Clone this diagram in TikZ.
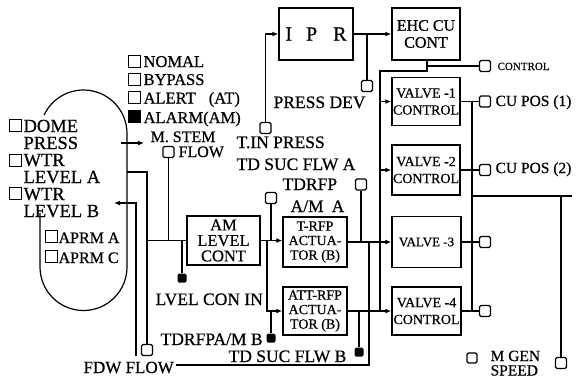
\documentclass[tikz,border=0pt]{standalone}
\usepackage{fontspec}
\setmainfont[FakeBold=0.6]{Liberation Serif}
\usetikzlibrary{arrows.meta}

\begin{document}
\begin{tikzpicture}[x=1pt,y=-1pt,line width=1.2pt,
  >={Latex[length=6pt,width=5pt]},
  blk/.style={draw,line width=1.5pt,inner sep=0pt,align=center},
  sen/.style={draw,line width=1.3pt,minimum size=11pt,inner sep=0pt,rounded corners=1.5pt},
  chk/.style={draw,line width=0.7pt,minimum size=12pt,inner sep=0pt},
  blob/.style={fill,minimum size=9pt,inner sep=0pt,rounded corners=1.5pt},
  lbl/.style={inner sep=0pt,anchor=base west,font=\fontsize{#1}{#1}\selectfont},
  lbl/.default=17.5]
\useasboundingbox (0,0) rectangle (577,378);

% vessel
\draw (40,213) -- (40,267) arc[start angle=180,end angle=0,radius=43.5]
  -- (127,133.5) arc[start angle=0,end angle=-154.8,radius=43.5];

% blocks
\node[blk,minimum width=74pt,minimum height=52pt,font=\fontsize{20}{20}\selectfont] (ipr) at (316,34) {I\hspace{14pt}P\hspace{16pt}R};
\node[blk,minimum width=68pt,minimum height=52pt,font=\fontsize{16}{17}\selectfont] (ehc) at (426,34) {EHC CU\\CONT};
\node[blk,minimum width=68pt,minimum height=48pt,font=\fontsize{14}{17}\selectfont] (vone) at (426,101.5) {VALVE -1\\CONTROL};
\node[blk,minimum width=68pt,minimum height=50pt,font=\fontsize{14}{17}\selectfont] (vtwo) at (426,170) {VALVE -2\\CONTROL};
\node[blk,minimum width=69pt,minimum height=51pt,font=\fontsize{13}{13}\selectfont] (vthree) at (426.5,242) {VALVE -3};
\node[blk,minimum width=69pt,minimum height=48pt,font=\fontsize{14}{17}\selectfont] (vfour) at (426.5,311) {VALVE -4\\CONTROL};
\node[blk,minimum width=64pt,minimum height=50pt,font=\fontsize{14}{14.5}\selectfont] (trfp) at (315,242) {T-RFP\\ACTUA-\\TOR (B)};
\node[blk,minimum width=64pt,minimum height=48pt,font=\fontsize{14}{14.5}\selectfont] (attrfp) at (315,311) {ATT-RFP\\ACTUA-\\TOR (B)};
\node[blk,minimum width=73pt,minimum height=49pt,font=\fontsize{16.5}{15.5}\selectfont] (amlc) at (223.5,240.5) {AM\\LEVEL\\CONT};

% sensors
\node[sen] (smst) at (168.5,152) {};
\node[sen] (stin) at (265.5,128) {};
\node[sen] (spdev) at (367,86) {};
\node[sen] (stdrfpa) at (271,198) {};
\node[sen] (ssuca) at (361,184.5) {};
\node[sen] (sfdw) at (147,350) {};
\node[sen] (sctrl) at (485,66) {};
\node[sen] (spos1) at (485,101.5) {};
\node[sen] (spos2) at (485,170) {};
\node[sen] (sv3) at (485,242) {};
\node[sen] (sv4) at (485,311) {};
\node[sen] (sspeed) at (561,363) {};
\node[sen,minimum size=10pt] (sgen) at (472,358) {};
\node[blob] (dlvl) at (182,278) {};
\node[blob] (dtdrfpb) at (271,338) {};
\node[blob] (dsucb) at (359,352) {};

% junctions
\coordinate (wla) at (127,172);
\coordinate (wlb) at (114,203);
\coordinate (jlb) at (136,356);
\coordinate (wms) at (121,143);
\coordinate (tms) at (144,143);
\coordinate (jl) at (147,240.5);
\coordinate (jm) at (267,240.5);
\coordinate (jf) at (176,365);
\coordinate (jv) at (369,242);
\coordinate (je) at (427,66);
\coordinate (jb) at (380,71);
\coordinate (jr) at (472,196);
\coordinate (jg) at (572,196);

% connectors
\draw[->] (wms) -- (tms);
\draw[<-] (wlb) -| (jlb);
\draw (wla) -| (sfdw);
\draw (jl) -- (amlc);
\draw (smst) -- (smst |- amlc.west);
\draw (dlvl) -- (dlvl |- amlc.west);
\draw[->] (amlc.east) -- (amlc.east -| trfp.west);
\draw[->] (jm) |- (attrfp);
\draw (stdrfpa) -- (stdrfpa |- amlc.east);
\draw (dtdrfpb) -- (dtdrfpb |- attrfp.west);
\draw[->] (trfp) -- (vthree);
\draw[->] (attrfp) -- (vfour);
\draw (ssuca) -- (ssuca |- trfp.east);
\draw (dsucb) -- (dsucb |- attrfp.east);
\draw (jf) -| (jv);
\draw[->] (stin) |- (ipr);
\draw[->] (ipr) -- (ehc);
\draw (spdev) -- (spdev |- ipr.east);
\draw (ehc.south -| je) -- (je) -- (sctrl);
\draw (je) |- (jb) -- (jb |- vfour.west);
\draw[->] (jb |- vone.west) -- (vone);
\draw[->] (jb |- vtwo.west) -- (vtwo);
\draw (vone) -- (spos1);
\draw (vtwo) -- (spos2);
\draw (vthree) -- (sv3);
\draw (vfour) -- (sv4);
\draw (vone.east -| jr) -- (vfour.east -| jr);
\draw (jr) -- (jg);
\draw (sspeed) -- (sspeed |- jr);

% check boxes
\node[chk] (cdome) at (15,125) {};
\node[chk] (cwtra) at (15,160) {};
\node[chk] (cwtrb) at (15,193.5) {};
\node[chk] (cnom) at (134,61) {};
\node[chk] (cbyp) at (134,79) {};
\node[chk] (calt) at (134,97.5) {};
\node[chk,fill] (calm) at (134,116.5) {};
\node[chk] (capa) at (51,236.5) {};
\node[chk] (capc) at (51,256.5) {};

% texts
\node[lbl,font=\fontsize{18.5}{17}\selectfont,align=left] (tvsl) at (23,217) {DOME\\PRESS\\WTR\\LEVEL A\\WTR\\LEVEL B};
\node[lbl=16.5] (tnom) at (143,67) {NOMAL};
\node[lbl=16.5] (tbyp) at (143,85) {BYPASS};
\node[lbl=16.5] (talt) at (143,103.5) {ALERT\hspace{13pt}(AT)};
\node[lbl=16.5] (talm) at (143,123) {ALARM(AM)};
\node[lbl=16] (tmst) at (150,142) {M. STEM};
\node[lbl=16] (tflow) at (178,157) {FLOW};
\node[lbl=16] (tapa) at (58,243) {APRM A};
\node[lbl=16] (tapc) at (58,263) {APRM C};
\node[lbl] (ttin) at (236,148) {T.IN PRESS};
\node[lbl] (tsuca) at (236,170) {TD SUC FLW A};
\node[lbl] (ttdrfp) at (282,190) {TDRFP};
\node[lbl] (tama) at (290,212) {A/M\hspace{8pt}A};
\node[lbl] (tpdev) at (273,108) {PRESS DEV};
\node[lbl] (tlvl) at (155,305) {LVEL CON IN};
\node[lbl] (tamb) at (160,345) {TDRFPA/M B};
\node[lbl] (tsucb) at (228,362) {TD SUC FLW B};
\node[lbl=17] (tfdw) at (83,373) {FDW FLOW};
\node[lbl=11] (tctrl) at (497,70) {CONTROL};
\node[lbl=15.5] (tpos1) at (495,106) {CU POS (1)};
\node[lbl=15.5] (tpos2) at (495,173) {CU POS (2)};
\node[lbl=15.5] (tgen) at (490,361) {M GEN};
\node[lbl=15.5] (tspeed) at (490,375.5) {SPEED};
\end{tikzpicture}
\end{document}
